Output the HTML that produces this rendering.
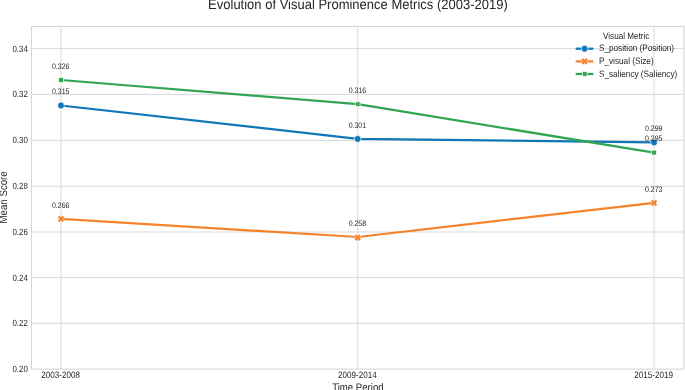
<!DOCTYPE html>
<html><head><meta charset="utf-8"><title>Evolution of Visual Prominence Metrics</title>
<style>html,body{margin:0;padding:0;background:#fff;overflow:hidden}svg{display:block}text{text-rendering:geometricPrecision;font-family:"Liberation Sans",sans-serif;fill:#262626}</style>
</head><body>
<svg width="685" height="390" viewBox="0 0 685 390">
<rect width="685" height="390" fill="#ffffff"/>
<g stroke="#d2d2d2" stroke-width="0.85" fill="none">
<line x1="31.6" x2="683.9" y1="323.40" y2="323.40"/>
<line x1="31.6" x2="683.9" y1="277.60" y2="277.60"/>
<line x1="31.6" x2="683.9" y1="232.00" y2="232.00"/>
<line x1="31.6" x2="683.9" y1="186.30" y2="186.30"/>
<line x1="31.6" x2="683.9" y1="140.40" y2="140.40"/>
<line x1="31.6" x2="683.9" y1="94.40" y2="94.40"/>
<line x1="31.6" x2="683.9" y1="48.60" y2="48.60"/>
<line x1="61.00" x2="61.00" y1="26.4" y2="369.1"/>
<line x1="357.70" x2="357.70" y1="26.4" y2="369.1"/>
<line x1="654.05" x2="654.05" y1="26.4" y2="369.1"/>
</g>
<polyline points="61.00,105.50 357.70,138.90 654.05,142.40" fill="none" stroke="#0f77b8" stroke-width="2.25" stroke-linejoin="round" stroke-linecap="butt"/>
<ellipse cx="61.00" cy="105.50" rx="3.35" ry="3.45" fill="#0f77b8" stroke="#fff" stroke-width="0.7"/>
<ellipse cx="357.70" cy="138.90" rx="3.35" ry="3.45" fill="#0f77b8" stroke="#fff" stroke-width="0.7"/>
<ellipse cx="654.05" cy="142.40" rx="3.35" ry="3.45" fill="#0f77b8" stroke="#fff" stroke-width="0.7"/>
<polyline points="61.00,218.90 357.70,237.00 654.05,202.90" fill="none" stroke="#f6832b" stroke-width="2.25" stroke-linejoin="round" stroke-linecap="butt"/>
<polygon points="57.90,217.25 59.45,215.60 61.00,217.25 62.55,215.60 64.10,217.25 62.55,218.90 64.10,220.55 62.55,222.20 61.00,220.55 59.45,222.20 57.90,220.55 59.45,218.90" fill="#fff" stroke="#fff" stroke-width="0.8" stroke-linejoin="miter"/>
<polygon points="57.90,217.25 59.45,215.60 61.00,217.25 62.55,215.60 64.10,217.25 62.55,218.90 64.10,220.55 62.55,222.20 61.00,220.55 59.45,222.20 57.90,220.55 59.45,218.90" fill="#f6832b"/>
<polygon points="354.60,235.95 356.15,234.30 357.70,235.95 359.25,234.30 360.80,235.95 359.25,237.60 360.80,239.25 359.25,240.90 357.70,239.25 356.15,240.90 354.60,239.25 356.15,237.60" fill="#fff" stroke="#fff" stroke-width="0.8" stroke-linejoin="miter"/>
<polygon points="354.60,235.95 356.15,234.30 357.70,235.95 359.25,234.30 360.80,235.95 359.25,237.60 360.80,239.25 359.25,240.90 357.70,239.25 356.15,240.90 354.60,239.25 356.15,237.60" fill="#f6832b"/>
<polygon points="650.95,201.25 652.50,199.60 654.05,201.25 655.60,199.60 657.15,201.25 655.60,202.90 657.15,204.55 655.60,206.20 654.05,204.55 652.50,206.20 650.95,204.55 652.50,202.90" fill="#fff" stroke="#fff" stroke-width="0.8" stroke-linejoin="miter"/>
<polygon points="650.95,201.25 652.50,199.60 654.05,201.25 655.60,199.60 657.15,201.25 655.60,202.90 657.15,204.55 655.60,206.20 654.05,204.55 652.50,206.20 650.95,204.55 652.50,202.90" fill="#f6832b"/>
<polyline points="61.00,80.00 357.70,104.20 654.05,152.60" fill="none" stroke="#33a452" stroke-width="2.25" stroke-linejoin="round" stroke-linecap="butt"/>
<rect x="58.62" y="77.58" width="4.75" height="4.85" fill="#33a452" stroke="#fff" stroke-width="0.7"/>
<rect x="355.32" y="101.78" width="4.75" height="4.85" fill="#33a452" stroke="#fff" stroke-width="0.7"/>
<rect x="651.67" y="150.17" width="4.75" height="4.85" fill="#33a452" stroke="#fff" stroke-width="0.7"/>
<rect x="31.6" y="26.4" width="652.3" height="342.7" fill="none" stroke="#d2d2d2" stroke-width="1.0"/>
<line x1="575.7" x2="593.3" y1="48.70" y2="48.70" stroke="#0f77b8" stroke-width="2.25"/>
<ellipse cx="584.60" cy="48.70" rx="3.35" ry="3.45" fill="#0f77b8" stroke="#fff" stroke-width="0.7"/>
<line x1="575.7" x2="593.3" y1="61.40" y2="61.40" stroke="#f6832b" stroke-width="2.25"/>
<polygon points="581.50,59.75 583.05,58.10 584.60,59.75 586.15,58.10 587.70,59.75 586.15,61.40 587.70,63.05 586.15,64.70 584.60,63.05 583.05,64.70 581.50,63.05 583.05,61.40" fill="#fff" stroke="#fff" stroke-width="0.8" stroke-linejoin="miter"/>
<polygon points="581.50,59.75 583.05,58.10 584.60,59.75 586.15,58.10 587.70,59.75 586.15,61.40 587.70,63.05 586.15,64.70 584.60,63.05 583.05,64.70 581.50,63.05 583.05,61.40" fill="#f6832b"/>
<line x1="575.7" x2="593.3" y1="74.00" y2="74.00" stroke="#33a452" stroke-width="2.25"/>
<rect x="582.33" y="71.58" width="4.75" height="4.85" fill="#33a452" stroke="#fff" stroke-width="0.7"/>
<g opacity="0.999">
<text transform="translate(60.70,94.30) scale(1,1.140)" font-size="7.00" text-anchor="middle">0.315</text>
<text transform="translate(357.40,127.70) scale(1,1.140)" font-size="7.00" text-anchor="middle">0.301</text>
<text transform="translate(653.75,131.20) scale(1,1.140)" font-size="7.00" text-anchor="middle">0.299</text>
<text transform="translate(60.70,207.70) scale(1,1.140)" font-size="7.00" text-anchor="middle">0.266</text>
<text transform="translate(357.40,226.40) scale(1,1.140)" font-size="7.00" text-anchor="middle">0.258</text>
<text transform="translate(653.75,191.70) scale(1,1.140)" font-size="7.00" text-anchor="middle">0.273</text>
<text transform="translate(60.70,68.80) scale(1,1.140)" font-size="7.00" text-anchor="middle">0.326</text>
<text transform="translate(357.40,93.00) scale(1,1.140)" font-size="7.00" text-anchor="middle">0.316</text>
<text transform="translate(653.75,141.40) scale(1,1.140)" font-size="7.00" text-anchor="middle">0.295</text>
<text transform="translate(27.80,372.10) scale(1,1.140)" font-size="7.90" text-anchor="end">0.20</text>
<text transform="translate(27.80,326.40) scale(1,1.140)" font-size="7.90" text-anchor="end">0.22</text>
<text transform="translate(27.80,280.60) scale(1,1.140)" font-size="7.90" text-anchor="end">0.24</text>
<text transform="translate(27.80,235.00) scale(1,1.140)" font-size="7.90" text-anchor="end">0.26</text>
<text transform="translate(27.80,189.30) scale(1,1.140)" font-size="7.90" text-anchor="end">0.28</text>
<text transform="translate(27.80,143.40) scale(1,1.140)" font-size="7.90" text-anchor="end">0.30</text>
<text transform="translate(27.80,97.40) scale(1,1.140)" font-size="7.90" text-anchor="end">0.32</text>
<text transform="translate(27.80,51.60) scale(1,1.140)" font-size="7.90" text-anchor="end">0.34</text>
<text transform="translate(60.60,377.50) scale(1,1.140)" font-size="8.10" text-anchor="middle">2003-2008</text>
<text transform="translate(357.30,377.50) scale(1,1.140)" font-size="8.10" text-anchor="middle">2009-2014</text>
<text transform="translate(653.65,377.50) scale(1,1.140)" font-size="8.10" text-anchor="middle">2015-2019</text>
<text transform="translate(357.90,390.50) scale(1,1.140)" font-size="9.60" text-anchor="middle">Time Period</text>
<text transform="translate(7.30,197.40) rotate(-90) scale(1,1.100)" font-size="9.70" text-anchor="middle">Mean Score</text>
<text transform="translate(357.90,9.10) scale(1,1.060)" font-size="13.00" text-anchor="middle">Evolution of Visual Prominence Metrics (2003-2019)</text>
<text transform="translate(626.20,39.00) scale(1,1.140)" font-size="8.15" text-anchor="middle">Visual Metric</text>
<text transform="translate(599.00,51.20) scale(1,1.140)" font-size="8.20" text-anchor="start">S_position (Position)</text>
<text transform="translate(599.00,63.90) scale(1,1.140)" font-size="8.20" text-anchor="start">P_visual (Size)</text>
<text transform="translate(599.00,76.50) scale(1,1.140)" font-size="8.20" text-anchor="start">S_saliency (Saliency)</text>
</g>
</svg>
</body></html>
